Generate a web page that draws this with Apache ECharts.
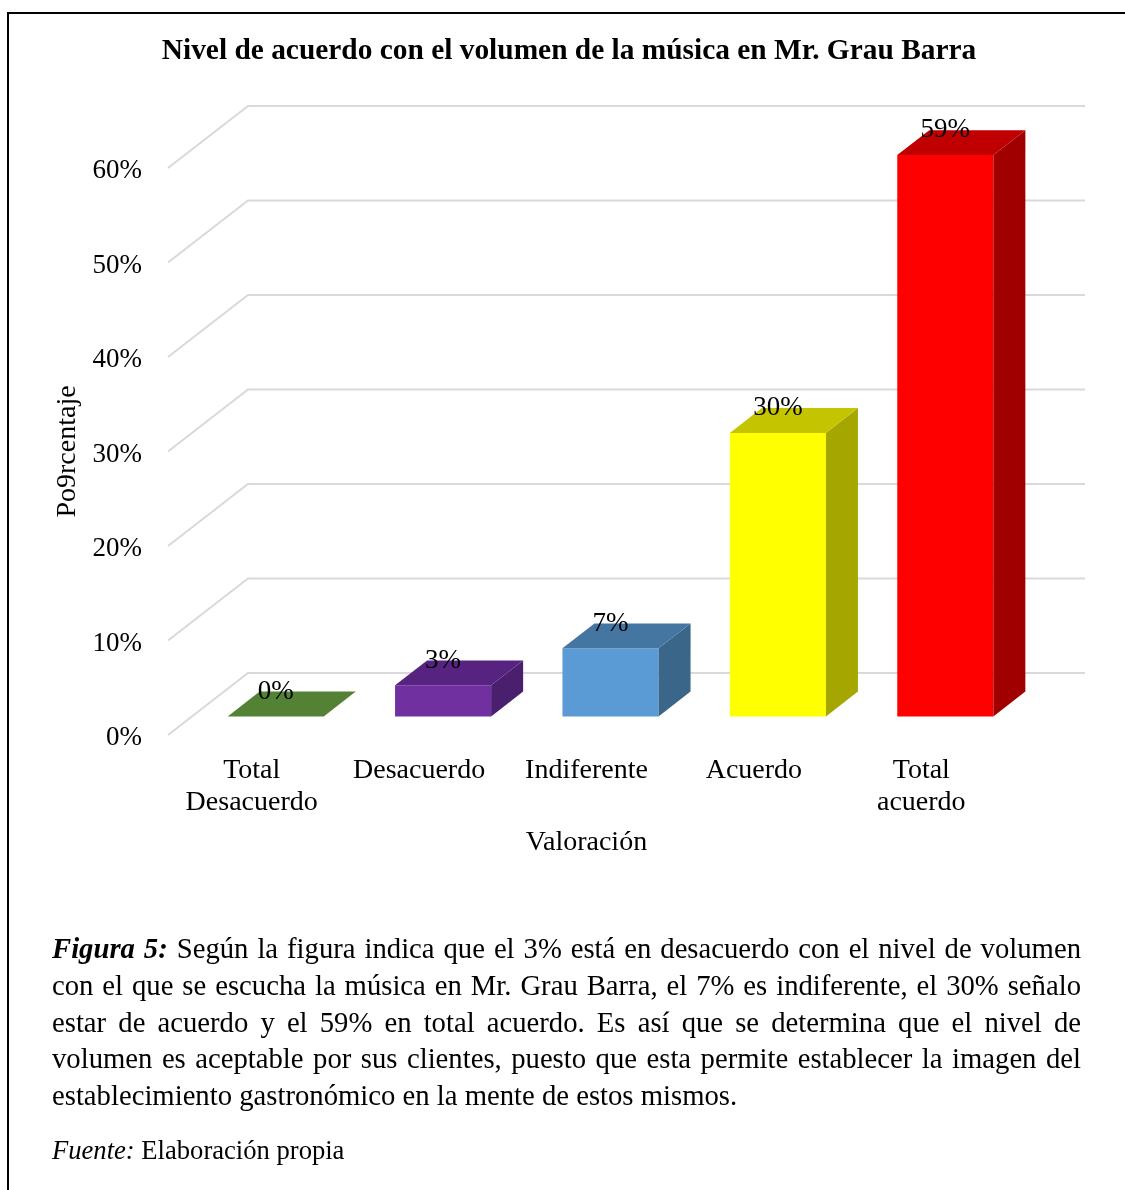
<!DOCTYPE html>
<html>
<head>
<meta charset="utf-8">
<script src="https://cdn.jsdelivr.net/npm/echarts@6/dist/echarts.min.js"></script>
<style>
html,body{margin:0;padding:0;background:#fff;}
#wrap{position:relative;width:1125px;height:1190px;overflow:hidden;background:#fff;}
#frame{position:absolute;left:7px;top:12px;width:1200px;height:1300px;border-left:2px solid #000;border-top:2px solid #000;}
#chart{position:absolute;left:0;top:0;width:1125px;height:1190px;}
.cap{position:absolute;left:52px;width:1029px;font-family:'Liberation Serif','Times New Roman',serif;font-size:28.7px;color:#000;white-space:nowrap;}
.cap .ln{height:36.75px;line-height:36.75px;text-align:justify;text-align-last:justify;}
.cap .ln.last{text-align:left;text-align-last:left;}
#src{position:absolute;left:52px;top:1133px;font-family:'Liberation Serif','Times New Roman',serif;font-size:26.6px;line-height:34px;color:#000;}
</style>
</head>
<body>
<div id="wrap">
  <div id="frame"></div>
  <div id="chart"></div>
  <div class="cap" style="top:930px;">
    <div class="ln"><b><i>Figura 5:</i></b> Según la figura indica que el 3% está en desacuerdo con el nivel de volumen</div>
    <div class="ln">con el que se escucha la música en Mr. Grau Barra, el 7% es indiferente, el 30% señalo</div>
    <div class="ln">estar de acuerdo y el 59% en total acuerdo. Es así que se determina que el nivel de</div>
    <div class="ln">volumen es aceptable por sus clientes, puesto que esta permite establecer la imagen del</div>
    <div class="ln last">establecimiento gastronómico en la mente de estos mismos.</div>
  </div>
  <div id="src"><i>Fuente:</i> Elaboración propia</div>
</div>
<script>
// ---- data ----
const categories = ['Total\nDesacuerdo', 'Desacuerdo', 'Indiferente', 'Acuerdo', 'Total\nacuerdo'];
const values = [0, 3.3, 7.2, 30.0, 59.4];   // bar heights (labels are rounded)
const yTicks = [0, 10, 20, 30, 40, 50, 60];
const chartTitle = 'Nivel de acuerdo con el volumen de la música en Mr. Grau Barra';
const xName = 'Valoración';
const yName = 'Po9rcentaje';

// ---- styles ----
const FRONT = ['#548235', '#7030A0', '#5B9BD5', '#FFFF00', '#FF0000'];
const TOP   = ['#548235', '#562480', '#4575A1', '#C4C400', '#C00000'];
const SIDE  = ['#3F6228', '#4A1F6E', '#3A6689', '#A6A600', '#A00000'];
const DX = 80, DY = -62;      // depth offset of the back wall
const D0 = 0.3, D1 = 0.7;     // bar depth range (fraction)
const BAR_FRAC = 0.574;
const FONT = "'Liberation Serif','Times New Roman',serif";

const chart = echarts.init(document.getElementById('chart'), null, {renderer: 'canvas'});

function renderGrid(params, api) {
  const v = api.value(1);
  const band = api.size([1, 0])[0];
  const pL = api.coord([0, v]);
  const pR = api.coord([categories.length - 1, v]);
  const x0 = pL[0] - band / 2, y0 = pL[1];
  const x1 = pR[0] + band / 2;
  return {
    type: 'polyline',
    shape: {points: [[x0, y0], [x0 + DX, y0 + DY], [x1 + DX, y0 + DY]]},
    style: {stroke: '#D9D9D9', lineWidth: 2, fill: null}
  };
}

function renderBar(params, api) {
  const ci = api.value(0), v = api.value(1);
  const idx = params.dataIndex;
  const base = api.coord([ci, 0]);
  const top = api.coord([ci, v]);
  const band = api.size([1, 0])[0];
  const w = band * BAR_FRAC;
  const fx0 = base[0] - w / 2 + DX * D0, fx1 = fx0 + w;
  const fyB = base[1] + DY * D0, fyT = top[1] + DY * D0;
  const ddx = DX * (D1 - D0), ddy = DY * (D1 - D0);
  const children = [];
  if (fyB - fyT > 0.5) {
    children.push({type: 'polygon', shape: {points: [[fx0, fyB], [fx1, fyB], [fx1, fyT], [fx0, fyT]]},
      style: {fill: FRONT[idx]}});
    children.push({type: 'polygon', shape: {points: [[fx1, fyB], [fx1 + ddx, fyB + ddy], [fx1 + ddx, fyT + ddy], [fx1, fyT]]},
      style: {fill: SIDE[idx]}});
  }
  children.push({type: 'polygon', shape: {points: [[fx0, fyT], [fx1, fyT], [fx1 + ddx, fyT + ddy], [fx0 + ddx, fyT + ddy]]},
    style: {fill: TOP[idx]}});
  children.push({type: 'text', z2: 10, style: {
    x: (fx0 + fx1) / 2, y: fyT + ddy, text: Math.round(v) + '%',
    font: '27px ' + FONT, fill: '#000', align: 'center', verticalAlign: 'middle'
  }});
  return {type: 'group', children: children};
}

chart.setOption({
  animation: false,
  backgroundColor: 'transparent',
  graphic: [{
    type: 'text', x: 569, y: 51, silent: true,
    style: {text: chartTitle, font: 'bold 29.4px ' + FONT, fill: '#000', align: 'center', verticalAlign: 'middle'}
  }],
  grid: {left: 168, right: 120, top: 168, bottom: 455, containLabel: false},
  xAxis: {
    type: 'category', data: categories, boundaryGap: true,
    axisLine: {show: false}, axisTick: {show: false}, splitLine: {show: false},
    axisLabel: {interval: 0, margin: 20, fontFamily: FONT, fontSize: 28, lineHeight: 32, color: '#000'},
    name: xName, nameLocation: 'middle', nameGap: 94,
    nameTextStyle: {fontFamily: FONT, fontSize: 28, color: '#000', lineHeight: 28}
  },
  yAxis: {
    type: 'value', min: 0, max: 60, interval: 10,
    axisLine: {show: false}, axisTick: {show: false}, splitLine: {show: false},
    axisLabel: {margin: 26, verticalAlign: 'top', lineHeight: 6, formatter: '{value}%', fontFamily: FONT, fontSize: 27, color: '#000'},
    name: yName, nameLocation: 'middle', nameGap: 80,
    nameTextStyle: {fontFamily: FONT, fontSize: 28, color: '#000', lineHeight: 28}
  },
  series: [
    {type: 'custom', z: 1, renderItem: renderGrid, data: yTicks.map(t => [0, t]), silent: true},
    {type: 'custom', z: 2, renderItem: renderBar, data: values.map((v, i) => [i, v]), silent: true}
  ]
});
</script>
</body>
</html>
